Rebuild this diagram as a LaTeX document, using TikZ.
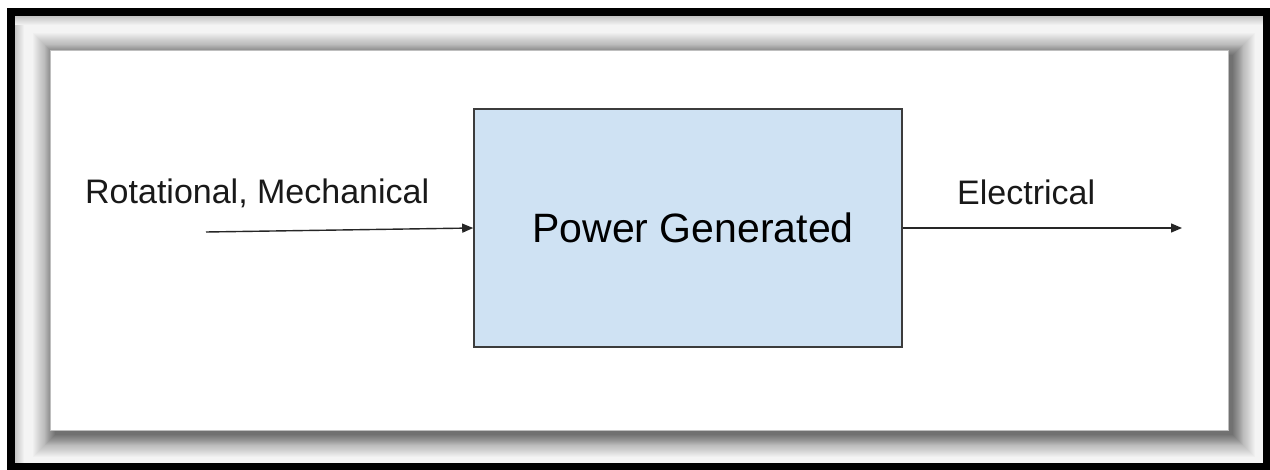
\documentclass[tikz,border=0pt]{standalone}
\usepackage{fontspec}
\setmainfont{Liberation Sans}
\usetikzlibrary{arrows.meta}
\definecolor{boxfill}{HTML}{CFE2F3}
\definecolor{boxedge}{HTML}{3C3C3C}
\definecolor{innerbg}{HTML}{F4F4F4}
\definecolor{edgegrey}{HTML}{C4C4C4}
\begin{document}
\begin{tikzpicture}[x=1pt,y=-1pt,
  genbox/.style={draw=boxedge, line width=1.6pt, fill=boxfill,
    minimum width=428pt, minimum height=238pt, inner sep=0pt,
    font=\fontsize{41}{48}\selectfont},
  lbl/.style={inner sep=0pt, font=\fontsize{34}{40}\selectfont, text=black!90},
  conn/.style={draw=black!85, line width=1.4pt, -{Triangle[length=11pt,width=9pt]}},
  shadowlayer/.style={fill=black, fill opacity=0.02}]
\useasboundingbox (0,0) rectangle (1270,470);
\fill[white] (0,0) rectangle (1270,470);
% inner background of the frame
\fill[innerbg] (15,16) rectangle (1263,464);
\shade[left color=edgegrey, right color=innerbg] (15,16) rectangle (24,464);
\shade[top color=edgegrey, bottom color=innerbg] (15,16) rectangle (1263,25);
% soft drop shadow of the panel (denser close to the panel)
\foreach \k in {0,...,22}
  \fill[shadowlayer] ({55-\k},{55-\k}) rectangle ({1233+\k},{435+\k});
\foreach \k in {0,...,10}
  \fill[shadowlayer] ({55-\k},{55-\k}) rectangle ({1233+\k},{435+\k});
% white panel
\draw[gray!50, line width=0.5pt, fill=white] (50,50) rectangle (1228,430);
% black outer frame
\draw[line width=8pt] (11,12) rectangle (1266.5,467);
% diagram
\node[genbox] (gen) at (688,228) {\hspace*{10pt}Power Generated};
\node[lbl, anchor=base west] (inlabel) at (85,204) {Rotational, Mechanical};
\node[lbl, anchor=base west] (outlabel) at (957,205) {Electrical};
\coordinate (src) at (206,232);
\coordinate (sink) at (1182,228);
\draw[conn] (src) -- (gen.west);
\draw[conn] (gen.east) -- (sink);
\end{tikzpicture}
\end{document}
